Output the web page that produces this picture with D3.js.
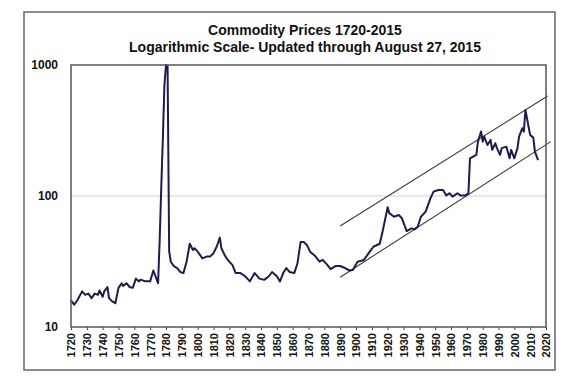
<!DOCTYPE html>
<html>
<head>
<meta charset="utf-8">
<script src="https://cdn.jsdelivr.net/npm/d3@7"></script>
<style>
  html, body { margin: 0; padding: 0; background: #fff; }
  svg { display: block; font-family: "Liberation Sans", Arial, sans-serif; }
</style>
</head>
<body>
<svg id="chart" width="573" height="378"></svg>
<script>
const titleLines = ["Commodity Prices 1720-2015", "Logarithmic Scale- Updated through August 27, 2015"];
const years = [1720,1722,1724,1727,1729,1731,1733,1735,1737,1738,1740,1741,1743,1744,1746,1748,1750,1752,1753,1755,1757,1759,1761,1763,1764,1767,1770,1772,1775,1776,1777,1778,1779,1780,1781,1782,1783,1785,1787,1789,1791,1793,1795,1797,1798,1800,1803,1806,1808,1810,1812,1814,1815,1817,1819,1822,1824,1827,1830,1833,1836,1839,1842,1845,1847,1850,1852,1854,1856,1858,1861,1863,1865,1867,1869,1871,1874,1877,1879,1882,1884,1887,1890,1893,1896,1898,1901,1905,1908,1911,1915,1917,1920,1921,1924,1927,1929,1932,1935,1937,1939,1941,1944,1947,1949,1952,1955,1957,1959,1961,1964,1966,1969,1971,1972,1974,1976,1977,1979,1980,1981,1983,1985,1986,1988,1989,1991,1992,1995,1997,1998,2000,2002,2003,2005,2006,2007,2009,2010,2012,2013,2015];
const prices = [16,14.8,16,18.7,17.6,18,16.6,18,17.6,19,17,18.7,20.2,16.6,15.7,15.2,19.9,21.6,20.6,21.6,20.2,19.9,23.4,22.3,23,22.3,22.3,27,21.6,46,115,270,700,1000,980,38,31.5,29.2,28.2,26.3,25.8,31.5,43.2,38.7,39.9,37.6,33.4,34.6,34.6,36.6,41,48.1,39.9,35.5,32.5,29.7,25.8,25.8,24.4,22.3,25.8,23.4,22.9,24.4,26.3,24.4,22.3,25.8,28.2,26.3,25.8,30.5,44.5,44.5,42.2,37.6,35,31.5,32.5,29.7,27.7,29.2,29.2,28.2,27,27.2,31.5,32.5,36.6,41,43.2,55,82,74,69.5,71.6,67.6,54,56.6,55.6,58.5,69.5,76,96,108,111,111,101,105,99,105,101,101,105,194,200,206,260,310,260,284,245,268,225,253,232,206,232,238,194,225,194,232,284,329,310,453,338,292,279,218,188];
const xTickYears = d3.range(1720, 2021, 10);
const yTickValues = [10, 100, 1000];
const upperTrendYears = [1890, 2021];
const upperTrendValues = [59, 580];
const lowerTrendYears = [1890, 2023];
const lowerTrendValues = [24, 260];

const svg = d3.select("#chart");
const L = 71, R = 546, T = 65, B = 327;

const x = d3.scaleLinear().domain([1720, 2020]).range([L, R]);
const y = d3.scaleLog().domain([10, 1000]).range([B, T]);

// outer frame
svg.append("rect").attr("x", 24).attr("y", 12).attr("width", 531).attr("height", 358)
  .attr("fill", "#fff").attr("stroke", "#666").attr("stroke-width", 1.5);

// titles
svg.selectAll("text.title").data(titleLines).enter().append("text")
  .attr("class", "title")
  .attr("x", 305).attr("y", (d, i) => 35 + i * 17)
  .attr("text-anchor", "middle")
  .attr("font-size", 14).attr("font-weight", "bold").attr("fill", "#111")
  .text(d => d);

// gridline at 100
svg.append("line").attr("x1", L).attr("x2", R).attr("y1", y(100)).attr("y2", y(100))
  .attr("stroke", "#d0d0d0").attr("stroke-width", 1);

// y axis labels
const yAxis = d3.axisLeft(y).tickValues(yTickValues).tickFormat(d3.format("d")).tickSize(0).tickPadding(13);
const gy = svg.append("g").attr("transform", `translate(${L},0)`).call(yAxis);
gy.select(".domain").remove();
gy.selectAll("text").attr("font-size", 12).attr("font-weight", "bold").attr("fill", "#111")
  .attr("font-family", "'Liberation Sans', Arial, sans-serif");

// x axis
const xAxis = d3.axisBottom(x).tickValues(xTickYears).tickFormat(d3.format("d")).tickSize(3).tickPadding(4);
const gx = svg.append("g").attr("transform", `translate(0,${B})`).call(xAxis);
gx.select(".domain").remove();
gx.selectAll("line").attr("stroke", "#444");
gx.selectAll("text")
  .attr("font-size", 11).attr("font-weight", "bold").attr("fill", "#111")
  .attr("font-family", "'Liberation Sans', Arial, sans-serif")
  .attr("text-anchor", "end")
  .attr("dy", "0.35em")
  .attr("transform", "rotate(-90)")
  .attr("x", -6).attr("y", 0);

// trend lines
const trend = d3.line().x(d => x(d[0])).y(d => y(d[1]));
svg.append("path").datum(upperTrendYears.map((yr, i) => [yr, upperTrendValues[i]]))
  .attr("d", trend).attr("fill", "none").attr("stroke", "#3a3a3a").attr("stroke-width", 1.1);
svg.append("path").datum(lowerTrendYears.map((yr, i) => [yr, lowerTrendValues[i]]))
  .attr("d", trend).attr("fill", "none").attr("stroke", "#3a3a3a").attr("stroke-width", 1.1);

// price line
const line = d3.line().x(d => x(d[0])).y(d => y(d[1]));
svg.append("path").datum(years.map((yr, i) => [yr, prices[i]]))
  .attr("d", line).attr("fill", "none").attr("stroke", "#1c1c4e").attr("stroke-width", 2)
  .attr("stroke-linejoin", "round");

// plot frame
svg.append("rect").attr("x", L).attr("y", T).attr("width", R - L).attr("height", B - T)
  .attr("fill", "none").attr("stroke", "#555").attr("stroke-width", 1.5);
</script>
</body>
</html>
